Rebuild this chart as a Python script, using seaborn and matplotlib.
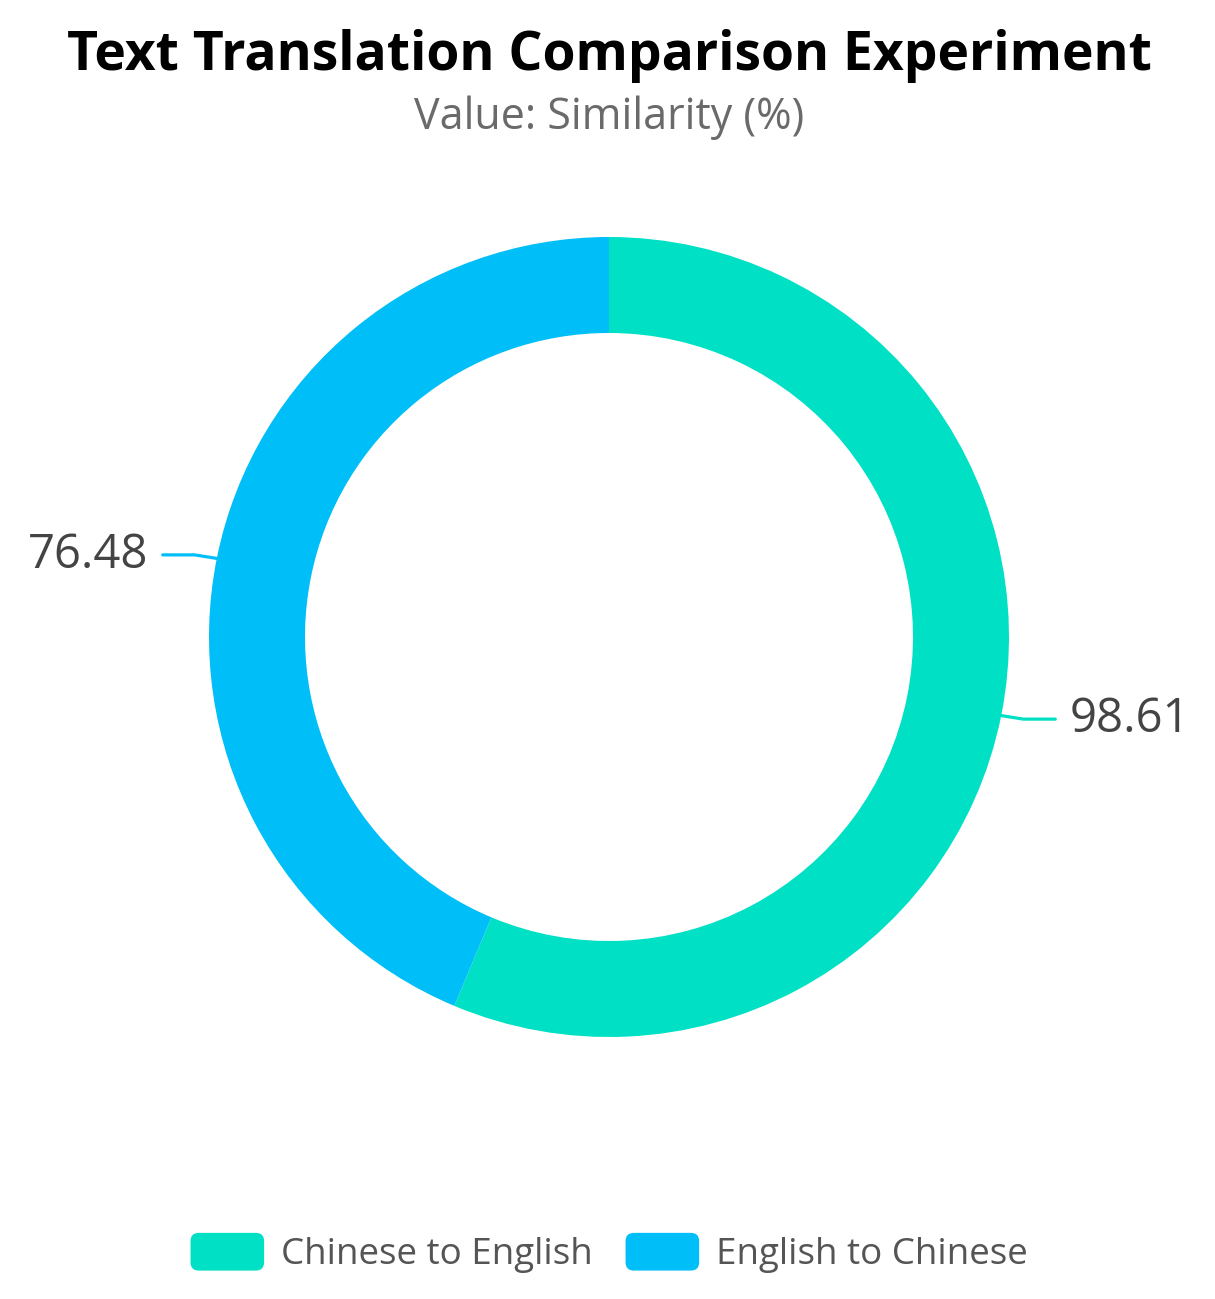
import numpy as np
import matplotlib
matplotlib.use("Agg")
import matplotlib.pyplot as plt
import seaborn as sns
from matplotlib.patches import FancyBboxPatch
from matplotlib.legend_handler import HandlerPatch
from matplotlib.patches import Patch

categories = ["Chinese to English", "English to Chinese"]
values = [98.61, 76.48]
value_labels = ["98.61", "76.48"]
colors = ["#00E0C4", "#00BFF8"]
title = "Text Translation Comparison Experiment"
subtitle = "Value: Similarity (%)"

sns.set_theme(style="white")
plt.rcParams['font.family'] = ['Open Sans', 'DejaVu Sans']

W, H = 1215, 1299
fig = plt.figure(figsize=(W / 100, H / 100), dpi=100)
fig.patch.set_facecolor("white")

cx, cy = 609, H - 637
half = 500
ax = fig.add_axes([(cx - half) / W, (cy - half) / H, 2 * half / W, 2 * half / H])
lim = 1.25
ax.set_aspect("equal")
ax.axis("off")

wedges, _ = ax.pie(values, colors=colors, startangle=90, counterclock=False,
                   radius=1.0, wedgeprops=dict(width=0.24, linewidth=0))
ax.set_xlim(-lim, lim)
ax.set_ylim(-lim, lim)

for w, lab, col in zip(wedges, value_labels, colors):
    ang = np.deg2rad((w.theta1 + w.theta2) / 2)
    x0, y0 = np.cos(ang) * 0.98, np.sin(ang) * 0.98
    side = np.sign(np.cos(ang))
    x1, y1 = x0 + side * 0.075, y0 + (0.012 if side < 0 else -0.012)
    x2 = x1 + side * 0.08
    ax.plot([x0, x1, x2], [y0, y1, y1], color=col, lw=2.3, solid_capstyle="round")
    ax.text(x2 + side * 0.035, y1, lab, ha="left" if side > 0 else "right",
            va="center", fontsize=34, color="#444444")

fig.text(609 / W, 1 - 56 / H, title, ha="center", va="center",
         fontsize=38.5, fontweight="bold", color="black")
fig.text(609 / W, 1 - 118 / H, subtitle, ha="center", va="center",
         fontsize=31, color="#6a6a6a")


class RoundHandler(HandlerPatch):
    def create_artists(self, legend, orig_handle, xdescent, ydescent, width,
                       height, fontsize, trans):
        p = FancyBboxPatch((-xdescent, -ydescent), width, height,
                           boxstyle="round,pad=0,rounding_size=%f" % (height * 0.22),
                           facecolor=orig_handle.get_facecolor(), edgecolor="none",
                           transform=trans)
        return [p]


handles = [Patch(facecolor=c, label=l) for c, l in zip(colors, categories)]
leg = fig.legend(handles=handles, loc="center", bbox_to_anchor=(609 / W, 1 - 1253 / H),
                 ncol=2, frameon=False, fontsize=26.5, handlelength=2.0, handleheight=1.2,
                 handletextpad=0.45, columnspacing=0.9,
                 handler_map={Patch: RoundHandler()})
for t in leg.get_texts():
    t.set_color("#555555")

fig.savefig("out.png", dpi=100, facecolor="white")
